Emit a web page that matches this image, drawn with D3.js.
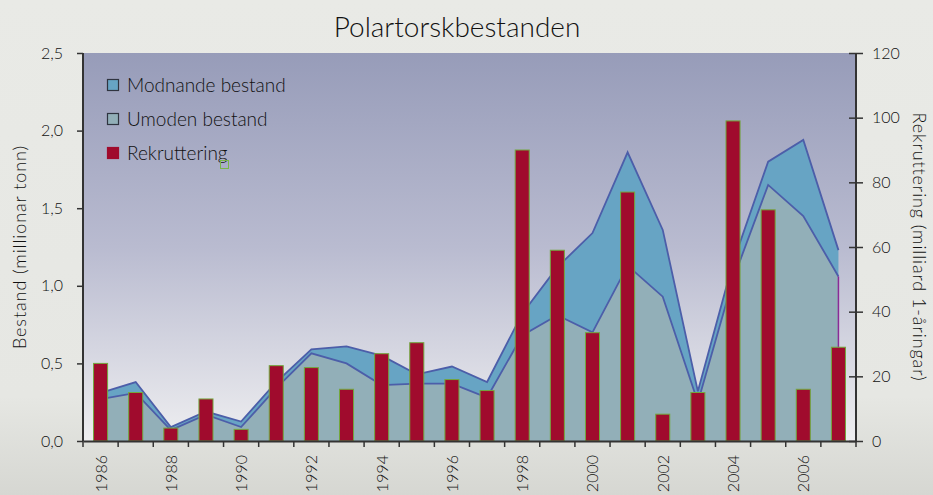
<!DOCTYPE html>
<html>
<head>
<meta charset="utf-8">
<script src="https://cdn.jsdelivr.net/npm/d3@7"></script>
<style>
  body { margin: 0; background: #e8e9e5; }
  svg { display: block; font-family: Lato, "Open Sans", sans-serif; }
</style>
</head>
<body>
<svg id="graf" width="933" height="495"></svg>
<script>
// Data lese av figuren
var aar = ["1986","1987","1988","1989","1990","1991","1992","1993","1994","1995","1996",
           "1997","1998","1999","2000","2001","2002","2003","2004","2005","2006","2007"];
var umoden = [0.27,0.31,0.07,0.17,0.09,0.34,0.565,0.50,0.36,0.37,0.37,
              0.28,0.68,0.81,0.70,1.13,0.93,0.25,1.04,1.65,1.45,1.06];
var modnande = [0.04,0.07,0.02,0.02,0.035,0.04,0.025,0.11,0.19,0.06,0.11,
                0.10,0.14,0.31,0.64,0.73,0.43,0.07,0.11,0.15,0.49,0.17];
var rekruttering = [24,15,4,13,3.6,23.3,22.7,16,27,30.4,19,
                    15.6,90,59,33.5,77,8.3,15,99,71.5,16,29];
var venstreTicks = [0, 0.5, 1.0, 1.5, 2.0, 2.5];
var hogreTicks = [0, 20, 40, 60, 80, 100, 120];
var aarEtikettar = ["1986","1988","1990","1992","1994","1996","1998","2000","2002","2004","2006"];
var serieNamn = ["Modnande bestand", "Umoden bestand", "Rekruttering"];

var svg = d3.select("#graf");
var venstre = 83, hogre = 856, topp = 53, botn = 441;

// bakgrunnar
var defs = svg.append("defs");
var gBak = defs.append("linearGradient").attr("id", "bak").attr("x1", 0).attr("y1", 0).attr("x2", 0).attr("y2", 1);
gBak.append("stop").attr("offset", "0%").attr("stop-color", "#e9eae6");
gBak.append("stop").attr("offset", "80%").attr("stop-color", "#e6e7e3");
gBak.append("stop").attr("offset", "100%").attr("stop-color", "#d6d7d2");
var gPlot = defs.append("linearGradient").attr("id", "plot").attr("x1", 0).attr("y1", 0).attr("x2", 0).attr("y2", 1);
gPlot.append("stop").attr("offset", "0%").attr("stop-color", "#979cb9");
gPlot.append("stop").attr("offset", "50%").attr("stop-color", "#b9bbd0");
gPlot.append("stop").attr("offset", "100%").attr("stop-color", "#eeeef0");

svg.append("rect").attr("width", 933).attr("height", 495).attr("fill", "url(#bak)");
svg.append("rect").attr("x", venstre).attr("y", topp)
    .attr("width", hogre - venstre).attr("height", botn - topp).attr("fill", "url(#plot)");

// skalaer
var x = d3.scaleBand().domain(aar).range([venstre, hogre]).padding(0);
var yV = d3.scaleLinear().domain([0, 2.5]).range([botn, topp]);
var yH = d3.scaleLinear().domain([0, 120]).range([botn, topp]);
var midt = function (a) { return x(a) + x.bandwidth() / 2; };

// stabla bestand
var tabell = aar.map(function (a, i) { return { aar: a, umoden: umoden[i], modnande: modnande[i] }; });
var stabel = d3.stack().keys(["umoden", "modnande"])(tabell);
var farge = { umoden: "#92afb8", modnande: "#67a4c4" };

var areal = d3.area()
    .x(function (d) { return midt(d.data.aar); })
    .y0(function (d) { return yV(d[0]); })
    .y1(function (d) { return yV(d[1]); });
var linje = d3.line()
    .x(function (d) { return midt(d.data.aar); })
    .y(function (d) { return yV(d[1]); });

svg.selectAll(".lag").data(stabel).join("path")
    .attr("class", "lag")
    .attr("d", areal)
    .attr("fill", function (d) { return farge[d.key]; });
svg.selectAll(".kant").data(stabel.slice().reverse()).join("path")
    .attr("class", "kant")
    .attr("d", linje)
    .attr("fill", "none")
    .attr("stroke", "#4c5ea9")
    .attr("stroke-width", 1.8);

// lilla kant ved siste punkt
var siste = aar.length - 1;
svg.append("line")
    .attr("x1", midt(aar[siste])).attr("x2", midt(aar[siste]))
    .attr("y1", yV(umoden[siste])).attr("y2", yV(0))
    .attr("stroke", "#8a2b96").attr("stroke-width", 1.5);

// søyler for rekruttering
var bredd = x.bandwidth() * 0.4;
svg.selectAll(".soyle").data(rekruttering).join("rect")
    .attr("class", "soyle")
    .attr("x", function (d, i) { return midt(aar[i]) - bredd / 2; })
    .attr("y", function (d) { return yH(d); })
    .attr("width", bredd)
    .attr("height", function (d) { return yH(0) - yH(d); })
    .attr("fill", "#a00b2d")
    .attr("stroke", "#72a83e")
    .attr("stroke-width", 1);

// aksar
var aksefarge = "#333";
var tekstfarge = "#111";

var aksV = svg.append("g").attr("transform", "translate(" + venstre + ",0)")
    .call(d3.axisLeft(yV).tickValues(venstreTicks).tickSize(6).tickPadding(14)
        .tickFormat(function (d) { return d3.format(".1f")(d).replace(".", ","); }));
var aksH = svg.append("g").attr("transform", "translate(" + hogre + ",0)")
    .call(d3.axisRight(yH).tickValues(hogreTicks).tickSize(7).tickPadding(9));
aksH.selectAll(".tick line").attr("x1", -7);
var aksX = svg.append("g").attr("transform", "translate(0," + botn + ")")
    .call(d3.axisBottom(x).tickSize(0).tickFormat(""));

[aksV, aksH, aksX].forEach(function (a) {
    a.select(".domain").attr("stroke", aksefarge).attr("stroke-width", 2);
    a.selectAll(".tick line").attr("stroke", aksefarge).attr("stroke-width", 1.5);
    a.selectAll("text").attr("fill", tekstfarge).style("font-size", "16px")
        .style("font-family", "Lato, sans-serif").style("font-weight", 300);
});
aksV.select(".domain").attr("d", "M0," + botn + "V" + topp);
aksH.select(".domain").attr("d", "M0," + botn + "V" + topp);

// x-merker mellom kategoriar
svg.selectAll(".xmerke").data(aar.concat(["slutt"])).join("line")
    .attr("class", "xmerke")
    .attr("x1", function (d, i) { return i < aar.length ? x(d) : hogre; })
    .attr("x2", function (d, i) { return i < aar.length ? x(d) : hogre; })
    .attr("y1", botn).attr("y2", botn + 6)
    .attr("stroke", aksefarge).attr("stroke-width", 1.5);

// årstal, rotert
svg.selectAll(".aar").data(aarEtikettar).join("text")
    .attr("class", "aar")
    .attr("transform", function (d) { return "translate(" + (midt(d) + 6) + "," + (botn + 14) + ") rotate(-90)"; })
    .attr("text-anchor", "end")
    .attr("fill", tekstfarge)
    .style("font-size", "16px").style("font-weight", 300)
    .text(function (d) { return d; });

// titlar
svg.append("text").attr("x", 457).attr("y", 37).attr("text-anchor", "middle")
    .attr("fill", "#111").style("font-size", "28px").style("font-weight", 300)
    .text("Polartorskbestanden");
svg.append("text").attr("transform", "translate(26," + (topp + botn) / 2 + ") rotate(-90)")
    .attr("text-anchor", "middle").attr("fill", tekstfarge)
    .style("font-size", "18px").style("font-weight", 300).style("letter-spacing", "0.9px")
    .text("Bestand (millionar tonn)");
svg.append("text").attr("transform", "translate(913," + (topp + botn) / 2 + ") rotate(90)")
    .attr("text-anchor", "middle").attr("fill", tekstfarge)
    .style("font-size", "18px").style("font-weight", 300).style("letter-spacing", "0.9px")
    .text("Rekruttering (milliard  1-åringar)");

// teiknforklaring
var lFarge = ["#67a4c4", "#92afb8", "#a00b2d"];
var lStrek = ["#2f3440", "#2f3440", "#a00b2d"];
var leg = svg.append("g").attr("transform", "translate(107,79)");
var rad = leg.selectAll("g").data(serieNamn).join("g")
    .attr("transform", function (d, i) { return "translate(0," + i * 34 + ")"; });
rad.append("rect").attr("x", 0.5).attr("y", 0.5).attr("width", 11).attr("height", 11)
    .attr("fill", function (d, i) { return lFarge[i]; })
    .attr("stroke", function (d, i) { return lStrek[i]; }).attr("stroke-width", 1.2);
rad.append("text").attr("x", 20).attr("y", 13).attr("fill", "#111")
    .style("font-size", "19px").style("font-weight", 300).text(function (d) { return d; });
// liten grøn markør under teiknforklaringa
svg.append("rect").attr("x", 220.5).attr("y", 160.5).attr("width", 8).attr("height", 8)
    .attr("fill", "none").attr("stroke", "#7ab648").attr("stroke-width", 1);
</script>
</body>
</html>
